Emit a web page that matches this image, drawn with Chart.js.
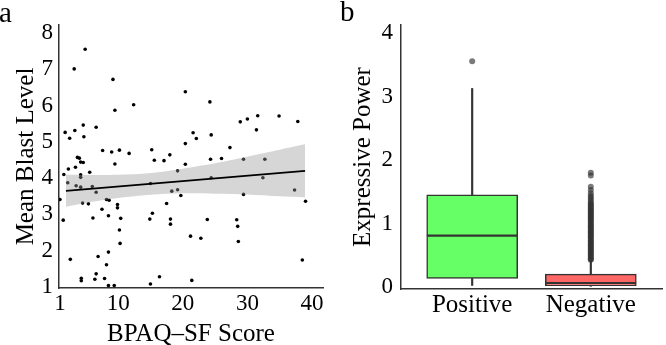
<!DOCTYPE html>
<html><head><meta charset="utf-8">
<script src="https://cdn.jsdelivr.net/npm/chart.js@4/dist/chart.umd.min.js"></script>
<style>
html,body{margin:0;padding:0;background:#fff;}
#wrap{position:relative;width:666px;height:345px;overflow:hidden;background:#fff;}
canvas{position:absolute;top:0;}
#ca{left:0;}
#cb{left:340px;}
.lab{position:absolute;font-family:"Liberation Serif",serif;font-size:29px;line-height:29px;color:#000;}
</style></head><body>
<div id="wrap">
<canvas id="ca" width="340" height="345"></canvas>
<canvas id="cb" width="326" height="345"></canvas>
<div class="lab" style="left:-1px;top:-2px">a</div>
<div class="lab" style="left:340px;top:-3px">b</div>
</div>
<script>
// ---------- Panel a: scatter with regression ----------
const scatterX = [4.9,3.2,9.2,9.5,12.4,20.4,24.2,1.8,2.5,3.3,4.6,4.7,6.6,28.9,30.0,31.6,34.9,37.8,31.4,21.6,22.1,24.4,20.4,7.6,9.0,10.2,11.7,15.2,15.6,17.1,18.0,27.3,26.0,24.3,29.4,32.7,9.5,20.4,19.2,2.3,1.6,3.4,3.7,4.0,4.2,4.6,5.6,4.2,4.2,2.2,3.5,4.2,6.0,6.6,15.0,24.4,32.4,18.3,19.2,19.7,29.4,37.3,1.0,4.5,5.4,8.2,8.6,9.9,9.9,7.5,17.5,39.0,1.5,6.1,8.5,10.4,15.3,14.9,18.1,18.1,23.8,28.35,28.5,10.2,21.2,22.8,10.3,28.6,2.6,6.9,8.5,8.2,38.5,4.3,4.3,6.6,6.4,7.9,8.5,9.4,15.0,16.4,21.4];
const scatterY = [7.55,7.01,6.72,5.87,6.02,6.38,6.10,5.26,5.10,5.31,5.46,5.14,5.40,5.55,5.63,5.72,5.71,5.56,5.33,5.25,5.09,5.19,4.95,4.76,4.72,4.77,4.68,4.78,4.49,4.48,4.64,4.84,4.54,4.52,4.52,4.52,4.39,4.38,4.20,4.25,4.10,4.30,4.57,4.55,4.44,4.43,4.16,4.09,4.02,3.87,3.79,3.75,3.77,3.61,3.85,4.01,4.01,3.64,3.68,3.52,3.55,3.67,3.41,3.31,3.29,3.41,3.39,3.27,3.18,3.14,3.30,3.36,2.84,2.90,2.96,2.89,3.03,2.87,2.87,2.73,2.86,2.85,2.67,2.57,2.40,2.34,2.20,2.25,1.76,1.84,1.96,1.61,1.74,1.24,1.17,1.36,1.21,1.23,1.04,1.04,1.08,1.28,1.18];
const fitX = [1.93, 38.93];
const fitY = [3.65, 4.20];
const bandX = [1.93, 5, 10, 15, 20, 25, 30, 35, 38.93];
const bandUpper = [4.09, 4.085, 4.09, 4.14, 4.26, 4.41, 4.59, 4.78, 4.93];
const bandLower = [3.21, 3.315, 3.45, 3.54, 3.58, 3.57, 3.55, 3.50, 3.47];
const xTicksA = [1, 10, 20, 30, 40];
const yTicksA = [1, 2, 3, 4, 5, 6, 7, 8];

// ---------- Panel b: boxplots ----------
const boxCategories = ['Positive', 'Negative'];
const boxQ1 = [0.137, 0.024];
const boxMedian = [0.81, 0.063];
const boxQ3 = [1.454, 0.205];
const whiskerLow = [0.026, 0.012];
const whiskerHigh = [3.13, 0.42];
const positiveOutliers = [3.56];
const negativeOutliers = [1.80,1.76,1.58,1.53,1.48,1.44,1.41,1.38,1.35,1.32,1.30,1.28,1.26,1.24,1.22,1.20,1.18,1.16,1.14,1.12,1.10,1.08,1.06,1.04,1.02,1.00,0.98,0.96,0.94,0.92,0.90,0.88,0.86,0.84,0.82,0.80,0.78,0.76,0.74,0.72,0.70,0.68,0.66,0.64,0.62,0.60,0.58,0.56,0.54,0.52,0.50,0.48,0.46,0.44,0.43];
const yTicksB = [0, 1, 2, 3, 4];

const SERIF = '"Liberation Serif", "Times New Roman", serif';
const AX = '#333333';

function pts(xs, ys){ return xs.map((x,i)=>({x:x, y:ys[i]})); }

new Chart(document.getElementById('ca'), {
  type: 'scatter',
  data: {
    datasets: [
      { type:'line', data: pts(fitX, fitY), borderColor:'#000', borderWidth:1.8, pointRadius:0, fill:false, tension:0 },
      { type:'line', data: pts(bandX, bandUpper), borderWidth:0, borderColor:'rgba(0,0,0,0)', pointRadius:0, fill:'+1', backgroundColor:'rgba(153,153,153,0.4)', tension:0.3 },
      { type:'line', data: pts(bandX, bandLower), borderWidth:0, borderColor:'rgba(0,0,0,0)', pointRadius:0, fill:false, tension:0.3 },
      { type:'scatter', data: pts(scatterX, scatterY), backgroundColor:'#000', borderWidth:0, pointRadius:1.8 }
    ]
  },
  options: {
    responsive:false, animation:false,
    layout:{ padding:{ left:0, top:25, right:17, bottom:0 } },
    plugins:{ legend:{display:false}, tooltip:{enabled:false} },
    scales:{
      x:{ type:'linear', min:0.85, max:41.7,
        grid:{display:false, drawTicks:false}, border:{display:true, color:AX, width:1.5},
        ticks:{ font:{family:SERIF, size:23}, color:'#000', padding:2, maxRotation:0, autoSkip:false },
        title:{ display:true, text:'BPAQ–SF Score', color:'#000', font:{family:SERIF, size:25, lineHeight:1}, padding:{top:0,bottom:-2} },
        afterBuildTicks: s => { s.ticks = xTicksA.map(v=>({value:v})); },
        afterFit: s => { s.height = 57; }
      },
      y:{ type:'linear', min:0.97, max:8.22,
        grid:{display:false, drawTicks:false}, border:{display:true, color:AX, width:1.5},
        ticks:{ font:{family:SERIF, size:23}, color:'#000', padding:6, autoSkip:false },
        title:{ display:true, text:'Mean Blast Level', color:'#000', font:{family:SERIF, size:25, lineHeight:1}, padding:{top:14,bottom:0} },
        afterBuildTicks: s => { s.ticks = yTicksA.map(v=>({value:v})); },
        afterFit: s => { s.width = 59; }
      }
    }
  }
});

const idx = boxCategories.map((c,i)=>i+1);
function floating(lo, hi){ return idx.map((x,i)=>({x:x, y:[lo[i], hi[i]]})); }
const fills = ['#66FF66', '#FF6666'];

new Chart(document.getElementById('cb'), {
  type: 'bar',
  data: {
    datasets: [
      { type:'scatter', data: positiveOutliers.map(v=>({x:1, y:v})).concat(negativeOutliers.map(v=>({x:2, y:v}))), backgroundColor:'rgba(50,50,50,0.65)', borderWidth:0, pointRadius:3 },
      { data: floating(boxMedian, boxQ3), backgroundColor: fills, borderColor: AX, borderWidth:1.5, borderSkipped:false, barThickness:91, grouped:false },
      { data: floating(boxQ1, boxMedian), backgroundColor: fills, borderColor: AX, borderWidth:1.5, borderSkipped:false, barThickness:91, grouped:false },
      { data: floating(boxQ3, whiskerHigh), backgroundColor: AX, borderWidth:0, barThickness:1.5, grouped:false },
      { data: floating(whiskerLow, boxQ1), backgroundColor: AX, borderWidth:0, barThickness:1.5, grouped:false }
    ]
  },
  options: {
    responsive:false, animation:false,
    layout:{ padding:{ left:0, top:25, right:1, bottom:0 } },
    plugins:{ legend:{display:false}, tooltip:{enabled:false} },
    scales:{
      x:{ type:'linear', min:0.4, max:2.6, offset:false,
        grid:{display:false, drawTicks:false}, border:{display:true, color:AX, width:1.5},
        ticks:{ font:{family:SERIF, size:25}, color:'#000', padding:1, maxRotation:0, autoSkip:false,
          callback: v => boxCategories[v-1] },
        afterBuildTicks: s => { s.ticks = idx.map(v=>({value:v})); },
        afterFit: s => { s.height = 56; }
      },
      y:{ type:'linear', min:-0.03, max:4.13,
        grid:{display:false, drawTicks:false}, border:{display:true, color:AX, width:1.5},
        ticks:{ font:{family:SERIF, size:23}, color:'#000', padding:8, autoSkip:false },
        title:{ display:true, text:'Expressive Power', color:'#000', font:{family:SERIF, size:25, lineHeight:1}, padding:{top:11,bottom:0} },
        afterBuildTicks: s => { s.ticks = yTicksB.map(v=>({value:v})); },
        afterFit: s => { s.width = 61; }
      }
    }
  }
});
</script>
</body></html>
